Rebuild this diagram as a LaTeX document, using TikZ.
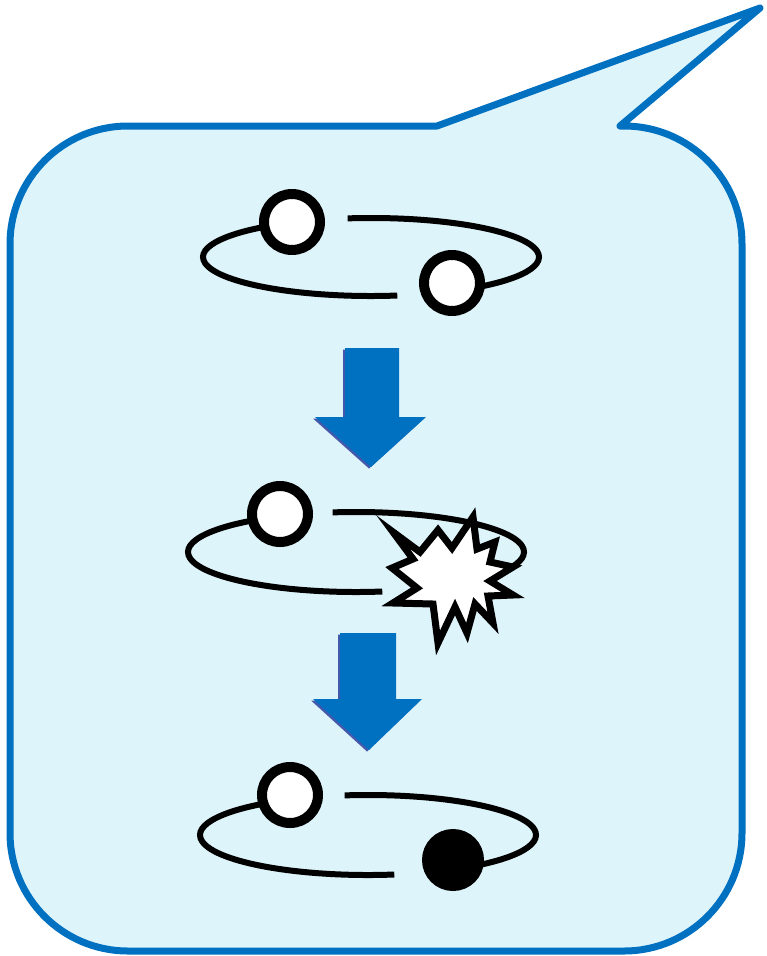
\documentclass[tikz,border=0pt]{standalone}
\definecolor{bubbleblue}{RGB}{0,112,192}
\definecolor{bubblefill}{RGB}{222,244,251}
\definecolor{arrowblue}{RGB}{0,112,192}
\definecolor{arrowshadow}{RGB}{68,88,172}
\begin{document}
\begin{tikzpicture}[x=1pt,y=-1pt,
  bubble/.style={draw=bubbleblue,fill=bubblefill,line width=7pt,line join=round},
  orbit/.style={draw=black,line width=6pt},
  ball/.style={circle,draw=black,fill=white,line width=10pt,minimum size=56pt,inner sep=0pt},
  darkball/.style={circle,draw=black,fill=black,line width=10pt,minimum size=52pt,inner sep=0pt},
  burst/.style={draw=black,fill=white,line width=7pt,line join=miter},
  downarrow/.style={fill=arrowblue},
  arrowshade/.style={fill=arrowshadow}]
\useasboundingbox (0,0) rectangle (766,956);

% speech bubble
\draw[bubble] (437,126) -- (760,8) -- (620,126) -- (624,126)
  arc[start angle=-90,end angle=0,radius=118] -- (742,833)
  arc[start angle=0,end angle=90,radius=118] -- (128,951)
  arc[start angle=90,end angle=180,radius=118] -- (10,244)
  arc[start angle=180,end angle=270,radius=118] -- cycle;

% orbit 1
\draw[orbit] (371,257) ++(-98:168 and 39) arc[start angle=-98,end angle=61,x radius=168,y radius=39];
\draw[orbit] (371,257) ++(81:168 and 39) arc[start angle=81,end angle=242,x radius=168,y radius=39];
\node[ball] (b1a) at (292,222) {};
\node[ball] (b1b) at (452,283) {};

% arrow 1
\begin{scope}[shift={(-2,1.5)}]
\fill[arrowshade] (345,348) -- (399,348) -- (399,417) -- (426,417) -- (371,467) -- (315,417) -- (345,417) -- cycle;
\end{scope}
\fill[downarrow] (345,348) -- (399,348) -- (399,417) -- (426,417) -- (371,467) -- (315,417) -- (345,417) -- cycle;

% orbit 2
\draw[orbit] (356,552) ++(-98:168 and 40) arc[start angle=-98,end angle=60,x radius=168,y radius=40];
\draw[orbit] (356,552) ++(81:168 and 40) arc[start angle=81,end angle=243,x radius=168,y radius=40];
\node[ball] (b2a) at (280,514) {};
\draw[burst] (393,532) -- (420,552) -- (438,530) -- (452,548) -- (473,517) -- (477,549)
  -- (495,542) -- (490,562) -- (513,567) -- (490,581) -- (513,595) -- (488,596)
  -- (493,623) -- (475,604) -- (467,633) -- (455,607) -- (438,643) -- (433,604)
  -- (393,603) -- (417,588) -- (392,568) -- (413,559) -- cycle;

% arrow 2
\begin{scope}[shift={(-2,1.5)}]
\fill[arrowshade] (340,633) -- (396,633) -- (396,699) -- (422,699) -- (369,750) -- (313,699) -- (340,699) -- cycle;
\end{scope}
\fill[downarrow] (340,633) -- (396,633) -- (396,699) -- (422,699) -- (369,750) -- (313,699) -- (340,699) -- cycle;

% orbit 3
\draw[orbit] (368,835) ++(-98:168 and 40) arc[start angle=-98,end angle=61,x radius=168,y radius=40];
\draw[orbit] (368,835) ++(81:168 and 40) arc[start angle=81,end angle=242,x radius=168,y radius=40];
\node[ball] (b3a) at (290,795) {};
\node[darkball] (b3b) at (453,860) {};
\end{tikzpicture}
\end{document}
